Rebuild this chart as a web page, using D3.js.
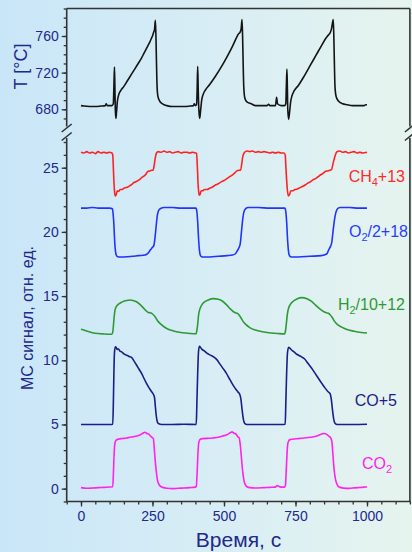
<!DOCTYPE html>
<html><head><meta charset="utf-8">
<script src="https://cdn.jsdelivr.net/npm/d3@7/dist/d3.min.js"></script>
<style>html,body{margin:0;padding:0;}svg{display:block;}</style>
</head><body>
<svg id="chart" width="412" height="552"></svg>
<script>
// ---------- data ----------
const tempSeries = [[0,684],[10,683.5],[30,683],[50,683],[70,683.5],[85,684],[88,686],[92,684],[108,684],[113,686],[115,705],[117,726],[118.5,705],[120,680],[122,670],[124,676],[127,688],[132,696],[140,701],[150,705],[160,710],[170,715],[180,720],[190,725],[200,730],[210,735],[220,741],[230,747],[240,753],[247,758],[250,760],[254,764],[257,767],[260,777],[262,760],[264,730],[266,705],[269,694],[275,689],[285,686],[300,684],[320,683],[340,683],[360,683],[380,683.5],[393,684],[396,686],[400,684],[404,685],[406,700],[408,727],[410,700],[412,680],[415,670],[418,678],[422,690],[428,697],[435,701],[450,707],[470,716],[490,726],[510,737],[530,749],[545,759],[550,762],[556,764],[560,768],[563,778],[565,760],[567,730],[569,705],[573,692],[580,688],[595,686],[610,684],[630,684],[650,684],[656,685.5],[660,684],[680,684],[684,693],[687,686],[700,684],[712,684],[716,686],[718,705],[720,724],[721.5,705],[723,680],[726,669],[729,676],[733,688],[738,695],[745,700],[760,706],[780,716],[800,727],[820,738],[840,749],[855,757],[865,761],[872,764],[876,768],[882,778],[884,760],[886,730],[888,705],[892,694],[900,689],[915,686],[930,685],[950,684],[970,684],[990,684],[996,685],[1000,685]];

const ch4Series = [[0,26.2],[10,26.15],[20,26.25],[30,26.15],[40,26.2],[50,26.1],[60,26.25],[70,26.15],[80,26.2],[90,26.15],[100,26.2],[108,26.15],[111,26.0],[114,24.5],[117,23.2],[120,22.8],[123,22.9],[127,23.2],[132,23.15],[137,23.3],[143,23.3],[150,23.4],[157,23.45],[164,23.5],[171,23.6],[178,23.7],[185,23.85],[192,23.9],[199,24.0],[206,24.1],[213,24.25],[220,24.35],[227,24.5],[233,24.7],[240,24.75],[247,24.8],[252,24.8],[256,25.2],[260,25.8],[264,26.15],[270,26.25],[280,26.2],[290,26.3],[300,26.2],[310,26.25],[320,26.15],[330,26.2],[340,26.25],[350,26.15],[360,26.2],[370,26.2],[380,26.15],[390,26.2],[400,26.15],[404,26.1],[407,25.0],[410,23.5],[413,22.85],[416,22.9],[420,23.2],[425,23.2],[432,23.3],[440,23.3],[450,23.4],[460,23.5],[470,23.65],[480,23.75],[490,23.9],[500,24.0],[510,24.15],[520,24.3],[530,24.45],[538,24.6],[545,24.75],[552,24.8],[558,24.8],[562,25.3],[566,25.9],[572,26.2],[580,26.3],[590,26.25],[600,26.3],[610,26.2],[620,26.25],[630,26.2],[640,26.25],[650,26.2],[660,26.15],[670,26.2],[680,26.15],[690,26.2],[700,26.15],[710,26.15],[714,26.0],[717,24.8],[721,23.4],[725,22.8],[729,22.9],[734,23.2],[740,23.2],[748,23.3],[757,23.35],[766,23.45],[775,23.55],[784,23.65],[793,23.8],[802,23.9],[811,24.05],[820,24.15],[829,24.3],[838,24.45],[846,24.55],[854,24.7],[862,24.75],[870,24.8],[876,24.85],[882,25.4],[888,25.9],[895,26.25],[905,26.3],[915,26.2],[925,26.25],[935,26.15],[945,26.2],[955,26.25],[965,26.15],[975,26.2],[985,26.15],[1000,26.2]];

const o2Series = [[0,21.85],[20,21.85],[40,21.9],[60,21.85],[80,21.85],[100,21.85],[110,21.8],[113,21.2],[115,20.6],[117,19.6],[119,18.85],[122,18.3],[126,18.1],[132,18.05],[150,18.05],[180,18.1],[200,18.15],[224,18.2],[235,18.35],[241,18.55],[250,18.8],[255,18.95],[259,19.6],[263,20.5],[267,21.3],[272,21.7],[280,21.85],[290,21.9],[320,21.9],[350,21.85],[380,21.85],[402,21.85],[405,21.6],[408,20.8],[411,19.5],[414,18.6],[418,18.15],[425,18.05],[450,18.05],[480,18.1],[510,18.15],[530,18.2],[540,18.3],[547,18.55],[553,18.8],[557,19.1],[561,20.0],[565,20.9],[569,21.5],[575,21.8],[585,21.9],[620,21.9],[660,21.85],[700,21.85],[713,21.85],[716,21.6],[719,20.8],[722,19.5],[725,18.6],[729,18.15],[736,18.05],[760,18.05],[800,18.1],[840,18.15],[860,18.3],[866,18.6],[872,18.85],[877,19.2],[881,20.0],[886,20.9],[891,21.5],[897,21.8],[905,21.9],[940,21.9],[970,21.85],[1000,21.85]];

const h2Series = [[0,12.42],[20,12.28],[40,12.15],[60,12.08],[80,12.05],[108,12.03],[111,12.2],[113,12.6],[116,13.4],[119,13.9],[124,14.2],[130,14.35],[140,14.5],[150,14.6],[160,14.66],[171,14.69],[182,14.65],[194,14.56],[206,14.35],[218,14.08],[228,13.85],[235,13.73],[242,13.7],[247,13.65],[253,13.55],[259,13.39],[267,13.1],[276,12.87],[288,12.65],[300,12.48],[316,12.33],[334,12.22],[355,12.14],[381,12.09],[402,12.07],[405,12.3],[408,12.8],[411,13.5],[415,13.95],[422,14.3],[432,14.55],[445,14.7],[463,14.8],[480,14.75],[495,14.6],[510,14.3],[522,14.0],[532,13.8],[540,13.7],[546,13.66],[552,13.55],[558,13.35],[566,13.05],[576,12.8],[590,12.55],[610,12.35],[635,12.22],[665,12.12],[690,12.08],[712,12.06],[715,12.3],[718,12.85],[721,13.5],[725,14.0],[732,14.35],[742,14.6],[755,14.78],[772,14.88],[790,14.8],[805,14.6],[820,14.3],[835,14.0],[848,13.8],[858,13.7],[865,13.66],[871,13.55],[878,13.35],[886,13.05],[896,12.8],[910,12.6],[930,12.4],[955,12.26],[980,12.17],[1000,12.13]];

const coSeries = [[0,5.0],[50,5.0],[100,5.0],[111,5.02],[113,6.5],[115,9.0],[117,10.6],[120,11.05],[123,11.0],[126,10.85],[130,10.9],[136,10.72],[142,10.66],[150,10.5],[159,10.4],[168,10.3],[177,10.22],[185,9.95],[194,9.63],[203,9.3],[212,8.98],[220,8.6],[229,8.2],[238,7.85],[247,7.55],[253,7.35],[257,7.1],[260,6.4],[263,5.7],[267,5.2],[272,5.05],[282,5.0],[320,5.0],[360,5.02],[403,5.0],[405,6.5],[408,9.0],[411,10.7],[414,11.08],[418,11.0],[423,10.85],[430,10.75],[440,10.55],[452,10.4],[465,10.25],[475,10.05],[486,9.7],[497,9.35],[508,9.0],[518,8.6],[528,8.2],[538,7.85],[548,7.55],[555,7.35],[559,7.0],[563,6.2],[567,5.5],[572,5.1],[580,5.0],[620,5.0],[660,5.0],[700,5.0],[714,5.02],[716,6.5],[719,9.0],[722,10.6],[726,11.02],[730,10.95],[736,10.8],[745,10.65],[756,10.45],[770,10.28],[782,10.1],[794,9.75],[806,9.4],[818,9.0],[830,8.6],[842,8.2],[853,7.85],[864,7.55],[871,7.4],[875,7.0],[879,6.2],[883,5.5],[888,5.1],[896,5.0],[950,5.0],[1000,5.02]];

const co2Series = [[0,0.08],[20,0.03],[40,0.05],[60,0.08],[80,0.1],[100,0.13],[111,0.15],[113,1.0],[116,2.8],[119,3.6],[124,3.8],[130,3.85],[140,3.9],[150,3.92],[160,3.95],[170,4.0],[183,4.05],[195,4.1],[206,4.18],[215,4.3],[224,4.4],[230,4.3],[237,4.25],[243,4.1],[248,4.0],[253,3.9],[256,3.2],[259,2.3],[263,1.4],[267,0.7],[272,0.35],[280,0.15],[300,0.03],[320,0.0],[340,0.03],[360,0.05],[380,0.08],[400,0.12],[403,0.15],[406,1.2],[409,2.8],[412,3.6],[417,3.85],[425,3.9],[440,3.92],[460,3.95],[480,4.0],[495,4.1],[510,4.2],[522,4.35],[528,4.42],[535,4.32],[542,4.25],[548,4.05],[553,3.95],[557,3.4],[561,2.4],[565,1.4],[570,0.6],[576,0.25],[585,0.1],[610,0.05],[640,0.08],[660,0.1],[680,0.12],[686,0.25],[690,0.2],[700,0.12],[712,0.12],[715,0.3],[718,1.6],[721,3.0],[724,3.6],[730,3.82],[740,3.85],[760,3.9],[780,3.95],[800,4.0],[815,4.05],[830,4.15],[842,4.25],[850,4.3],[858,4.25],[866,4.1],[873,3.95],[877,3.7],[881,2.6],[885,1.5],[890,0.7],[896,0.3],[905,0.1],[930,0.02],[950,0.05],[970,0.08],[990,0.12],[1000,0.15]];

const xTicks = [0, 250, 500, 750, 1000];
const tTicks = [680, 720, 760];
const signalTicks = [0, 5, 10, 15, 20, 25];

const labelCH4 = ["CH", "4", "+13"];
const labelO2 = ["O", "2", "/2+18"];
const labelH2 = ["H", "2", "/10+12"];
const labelCO = ["CO+5", "", ""];
const labelCO2 = ["CO", "2", ""];
const tTitle = "T [°C]";
const yTitle = "МС сигнал, отн. ед.";
const xTitle = "Время, с";

// ---------- layout ----------
const W = 412, H = 552;
const left = 66.7, right = 409.9;
const svg = d3.select("#chart");
const font = "'Liberation Sans', Arial, sans-serif";
const axisColor = "#333";
const tickColor = "#22288c";

const defs = svg.append("defs");
const grad = defs.append("linearGradient").attr("id", "bg").attr("x1", 0).attr("x2", 1).attr("y1", 0).attr("y2", 0);
grad.append("stop").attr("offset", "0%").attr("stop-color", "#c9e6f8");
grad.append("stop").attr("offset", "50%").attr("stop-color", "#d7edf5");
grad.append("stop").attr("offset", "100%").attr("stop-color", "#e6f4ee");
svg.append("rect").attr("width", W).attr("height", H).attr("fill", "url(#bg)");

const x = d3.scaleLinear().domain([-50, 1150]).range([left, right]);
const yT = d3.scaleLinear().domain([660, 790]).range([127.6, 8.5]);
const yS = d3.scaleLinear().domain([-1, 27.4]).range([501.5, 136.9]);
const fmt = d3.format("d");

// ---------- axes ----------
function yAxisGroup(scale, majors, minors) {
  const g = svg.append("g").attr("transform", `translate(${left},0)`);
  g.call(d3.axisLeft(scale).tickValues(minors).tickSize(3).tickFormat(""));
  g.call(gg => gg.selectAll(".domain").remove());
  const g2 = svg.append("g").attr("transform", `translate(${left},0)`);
  g2.call(d3.axisLeft(scale).tickValues(majors).tickSize(5).tickPadding(3).tickFormat(fmt));
  g2.select(".domain").remove();
  [g, g2].forEach(a => {
    a.selectAll("line").attr("stroke", axisColor).attr("stroke-width", 1.3);
    a.selectAll("text").attr("fill", tickColor).attr("font-family", font).attr("font-size", 14);
  });
}
yAxisGroup(yT, tTicks, d3.range(670, 791, 10));
yAxisGroup(yS, signalTicks, d3.range(-1, 28, 1));

// x axis
const gx = svg.append("g").attr("transform", `translate(0,${yS(-1)})`);
gx.call(d3.axisBottom(x).tickValues(d3.range(-50, 1151, 50)).tickSize(3).tickFormat(""));
gx.select(".domain").remove();
const gx2 = svg.append("g").attr("transform", `translate(0,${yS(-1)})`);
gx2.call(d3.axisBottom(x).tickValues(xTicks).tickSize(5).tickPadding(5).tickFormat(fmt));
gx2.select(".domain").remove();
[gx, gx2].forEach(a => {
  a.selectAll("line").attr("stroke", axisColor).attr("stroke-width", 1.3);
  a.selectAll("text").attr("fill", tickColor).attr("font-family", font).attr("font-size", 14);
});

// frame lines
const frame = svg.append("g").attr("stroke", axisColor).attr("stroke-width", 1.6).attr("fill", "none");
const topEnd = 126.5, botStart = 138;
frame.append("line").attr("x1", left).attr("x2", left).attr("y1", yT(790)).attr("y2", topEnd);
frame.append("line").attr("x1", left).attr("x2", left).attr("y1", botStart).attr("y2", yS(-1));
frame.append("line").attr("x1", right).attr("x2", right).attr("y1", yT(790)).attr("y2", topEnd);
frame.append("line").attr("x1", right).attr("x2", right).attr("y1", botStart).attr("y2", yS(-1));
frame.append("line").attr("x1", left).attr("x2", right).attr("y1", yT(790)).attr("y2", yT(790));
frame.append("line").attr("x1", left - 0.8).attr("x2", right + 0.8).attr("y1", yS(-1)).attr("y2", yS(-1));
// break marks
[left, right].forEach(cx => {
  [topEnd + 1.5, botStart - 1.5].forEach(cy => {
    frame.append("line").attr("x1", cx - 5).attr("y1", cy + 4).attr("x2", cx + 5).attr("y2", cy - 4);
  });
});

// ---------- lines ----------
const lineT = d3.line().x(d => x(d[0])).y(d => yT(d[1])).curve(d3.curveMonotoneX);
const lineS = d3.line().x(d => x(d[0])).y(d => yS(d[1])).curve(d3.curveMonotoneX);
const plots = svg.append("g").attr("fill", "none").attr("stroke-width", 1.6).attr("stroke-linejoin", "round");
plots.append("path").attr("d", lineT(tempSeries)).attr("stroke", "#141414");
plots.append("path").attr("d", lineS(ch4Series)).attr("stroke", "#ff2222");
plots.append("path").attr("d", lineS(o2Series)).attr("stroke", "#2233ff");
plots.append("path").attr("d", lineS(h2Series)).attr("stroke", "#2e9a35");
plots.append("path").attr("d", lineS(coSeries)).attr("stroke", "#1c1c8a");
plots.append("path").attr("d", lineS(co2Series)).attr("stroke", "#ff22f0");

// ---------- series labels ----------
function seriesLabel(parts, xEnd, yBase, color) {
  const t = svg.append("text").attr("x", xEnd).attr("y", yBase).attr("text-anchor", "end")
    .attr("font-family", font).attr("font-size", 16).attr("fill", color);
  t.append("tspan").text(parts[0]);
  if (parts[1]) t.append("tspan").attr("font-size", 11).attr("dy", 4).text(parts[1]);
  if (parts[2]) t.append("tspan").attr("dy", parts[1] ? -4 : 0).text(parts[2]);
}
seriesLabel(labelCH4, 405, 181.5, "#ff2a2a");
seriesLabel(labelO2, 408, 236.5, "#2a3cff");
seriesLabel(labelH2, 405, 310, "#2e9a35");
seriesLabel(labelCO, 397, 406, "#1c1c8a");
seriesLabel(labelCO2, 392, 469, "#ff22f0");

// ---------- titles ----------
svg.append("text").attr("transform", `translate(26.5,66.5) rotate(-90)`).attr("text-anchor", "middle")
  .attr("font-family", font).attr("font-size", 18).attr("fill", tickColor).text(tTitle);
svg.append("text").attr("transform", `translate(33,318) rotate(-90)`).attr("text-anchor", "middle")
  .attr("font-family", font).attr("font-size", 16).attr("fill", tickColor).text(yTitle);
svg.append("text").attr("x", 238.5).attr("y", 546.5).attr("text-anchor", "middle")
  .attr("font-family", font).attr("font-size", 21).attr("fill", tickColor).text(xTitle);
</script>
</body></html>
